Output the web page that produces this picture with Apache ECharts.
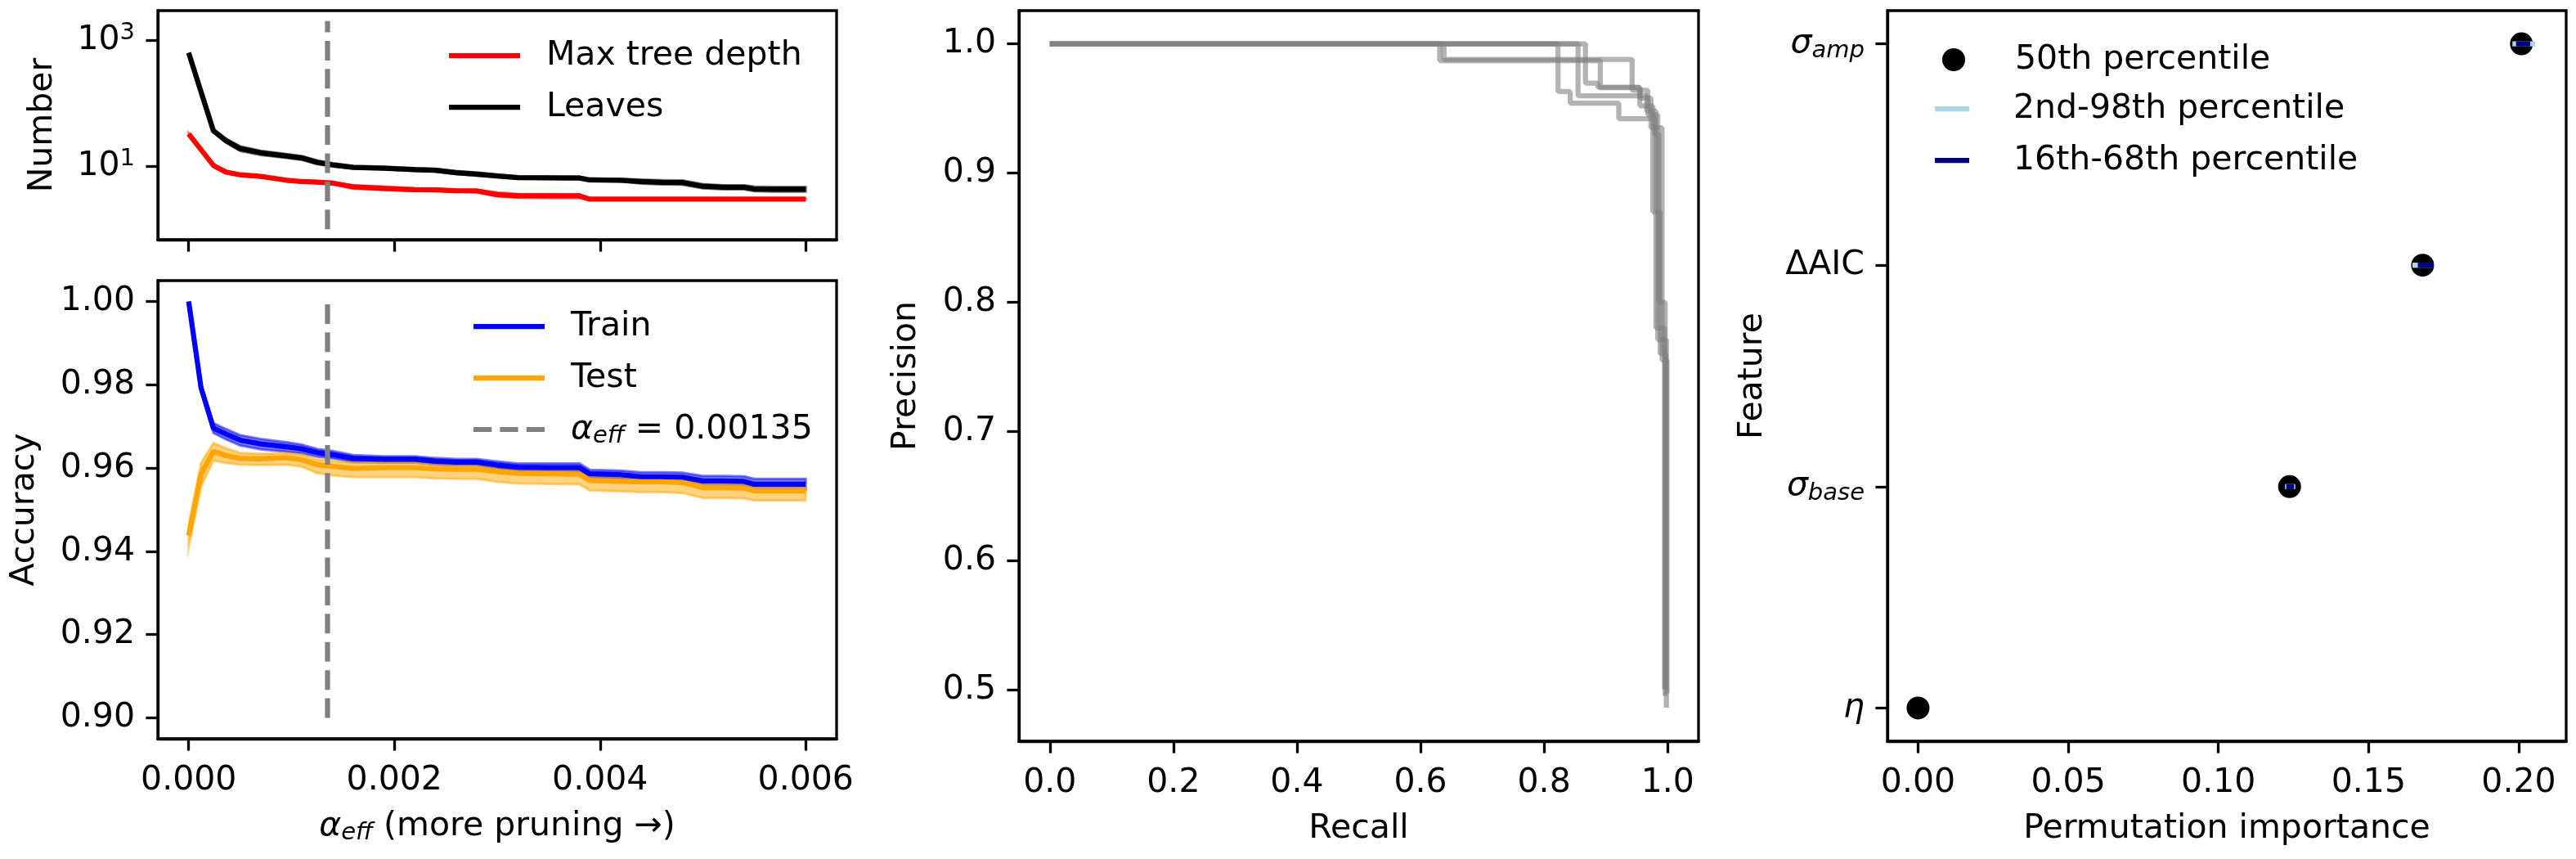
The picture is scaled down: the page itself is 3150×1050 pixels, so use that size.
<!DOCTYPE html>
<html>
<head>
<meta charset="utf-8">
<script src="https://cdn.jsdelivr.net/npm/echarts@6/dist/echarts.min.js"></script>
<style>
  html, body { margin: 0; padding: 0; background: #fff; }
  #main { width: 3150px; height: 1050px; }
</style>
</head>
<body>
<div id="main"></div>
<script>
// ---- pruning path (left panels) ----
var alphaX = [0, 0.00012, 0.00024, 0.00036, 0.0005, 0.0007, 0.00095, 0.0011, 0.00125, 0.0014, 0.0016, 0.0019, 0.0022, 0.0024, 0.0026, 0.0028, 0.0030, 0.0032, 0.0035, 0.0038, 0.0039, 0.0042, 0.0044, 0.0046, 0.0048, 0.0050, 0.0052, 0.0054, 0.0055, 0.0057, 0.0060];

var leaves   = [627, 151, 36.5, 25.5, 19, 16.3, 14.5, 13.5, 11.5, 10.5, 9.6, 9.3, 8.8, 8.6, 7.9, 7.5, 7.0, 6.6, 6.55, 6.5, 6.05, 6.0, 5.7, 5.55, 5.5, 4.8, 4.65, 4.65, 4.35, 4.3, 4.3];
var leavesHi = [627, 155, 38.5, 27.5, 20.8, 17.6, 15.6, 14.5, 12.4, 11.2, 10.1, 9.8, 9.3, 9.1, 8.4, 8.0, 7.4, 6.9, 6.85, 6.8, 6.35, 6.3, 6.15, 6.0, 5.95, 5.2, 5.0, 5.0, 4.75, 4.7, 4.7];
var leavesLo = [627, 147, 34.8, 23.8, 17.4, 15.0, 13.5, 12.6, 10.7, 9.9, 9.2, 8.9, 8.4, 8.2, 7.5, 7.1, 6.7, 6.35, 6.3, 6.25, 5.8, 5.75, 5.3, 5.15, 5.1, 4.45, 4.3, 4.3, 4.0, 3.95, 3.95];

var depth   = [32.4, 18.3, 10.3, 8.1, 7.3, 6.9, 6.0, 5.7, 5.6, 5.4, 4.7, 4.45, 4.25, 4.2, 4.1, 4.05, 3.55, 3.4, 3.38, 3.38, 3.0, 3.0, 3.0, 3.0, 3.0, 3.0, 3.0, 3.0, 3.0, 3.0, 3.0];
var depthHi = [33.5, 19, 10.8, 8.5, 7.6, 7.1, 6.25, 5.95, 5.8, 5.6, 5.0, 4.75, 4.45, 4.35, 4.25, 4.2, 3.85, 3.65, 3.62, 3.6, 3.05, 3.02, 3.02, 3.02, 3.02, 3.02, 3.02, 3.02, 3.02, 3.02, 3.02];
var depthLo = [31.0, 17.6, 9.8, 7.7, 7.0, 6.6, 5.8, 5.5, 5.4, 5.2, 4.4, 4.2, 4.05, 4.05, 3.95, 3.9, 3.3, 3.15, 3.12, 3.12, 2.95, 2.98, 2.98, 2.98, 2.98, 2.98, 2.98, 2.98, 2.98, 2.98, 2.98];

var train   = [1.000, 0.9793, 0.9696, 0.9682, 0.9667, 0.9658, 0.9651, 0.9646, 0.9637, 0.9632, 0.9623, 0.9621, 0.9621, 0.9616, 0.9614, 0.9614, 0.9607, 0.9602, 0.9601, 0.9601, 0.9586, 0.9584, 0.9579, 0.9579, 0.9578, 0.9569, 0.9569, 0.9568, 0.9561, 0.9561, 0.9561];
var trainHi = [1.0000, 0.9801, 0.9708, 0.9694, 0.9679, 0.9670, 0.9662, 0.9656, 0.9646, 0.9641, 0.9631, 0.9628, 0.9628, 0.9624, 0.9622, 0.9622, 0.9616, 0.9611, 0.9611, 0.9611, 0.9596, 0.9594, 0.9590, 0.9590, 0.9589, 0.9581, 0.9581, 0.9580, 0.9574, 0.9574, 0.9574];
var trainLo = [1.0000, 0.9785, 0.9684, 0.9669, 0.9654, 0.9645, 0.9639, 0.9635, 0.9627, 0.9623, 0.9614, 0.9613, 0.9613, 0.9608, 0.9606, 0.9606, 0.9598, 0.9593, 0.9591, 0.9591, 0.9576, 0.9574, 0.9568, 0.9568, 0.9567, 0.9557, 0.9557, 0.9556, 0.9548, 0.9548, 0.9548];

var test   = [0.9438, 0.9585, 0.9640, 0.9630, 0.9623, 0.9622, 0.9625, 0.9620, 0.9608, 0.9604, 0.9599, 0.9601, 0.9601, 0.9598, 0.9597, 0.9597, 0.9591, 0.9587, 0.9586, 0.9585, 0.9570, 0.9568, 0.9567, 0.9567, 0.9565, 0.9553, 0.9553, 0.9552, 0.9545, 0.9545, 0.9545];
var testHi = [0.9462, 0.9612, 0.9660, 0.9648, 0.9636, 0.9634, 0.9636, 0.9632, 0.9621, 0.9617, 0.9613, 0.9615, 0.9615, 0.9612, 0.9611, 0.9611, 0.9605, 0.9601, 0.9600, 0.9599, 0.9585, 0.9583, 0.9582, 0.9582, 0.9580, 0.9568, 0.9568, 0.9567, 0.9560, 0.9560, 0.9560];
var testLo = [0.9410, 0.9555, 0.9618, 0.9612, 0.9608, 0.9607, 0.9608, 0.9603, 0.9588, 0.9582, 0.9578, 0.9578, 0.9578, 0.9575, 0.9574, 0.9574, 0.9567, 0.9563, 0.9562, 0.9561, 0.9546, 0.9544, 0.9542, 0.9542, 0.9540, 0.9528, 0.9528, 0.9527, 0.9522, 0.9522, 0.9522];

var alphaEff = 0.00135;
var alphaTicks = [0, 0.002, 0.004, 0.006];
var accTicks = [0.90, 0.92, 0.94, 0.96, 0.98, 1.00];
var numTicks = [10, 1000];

// ---- precision-recall curves (middle) ----
var pr1Recall = [0, 0.631, 0.631, 0.891, 0.891, 0.955, 0.955, 0.976, 0.976, 0.988, 0.988, 0.997, 0.997];
var pr1Prec   = [1, 1, 0.987, 0.987, 0.966, 0.966, 0.952, 0.952, 0.870, 0.870, 0.760, 0.760, 0.500];
var pr2Recall = [0, 0.638, 0.638, 0.9425, 0.9425, 0.968, 0.968, 0.984, 0.984, 0.998, 0.998];
var pr2Prec   = [1, 1, 0.988, 0.988, 0.964, 0.964, 0.945, 0.945, 0.771, 0.771, 0.486];
var pr3Recall = [0, 0.8226, 0.8226, 0.8424, 0.8424, 0.921, 0.921, 0.979, 0.979, 0.986, 0.986, 0.996, 0.996];
var pr3Prec   = [1, 1, 0.963, 0.963, 0.954, 0.954, 0.942, 0.942, 0.930, 0.930, 0.800, 0.800, 0.495];
var pr4Recall = [0, 0.855, 0.855, 0.966, 0.966, 0.981, 0.981, 0.995, 0.995];
var pr4Prec   = [1, 1, 0.9597, 0.9597, 0.948, 0.948, 0.780, 0.780, 0.500];
var pr5Recall = [0, 0.867, 0.867, 0.887, 0.887, 0.955, 0.955, 0.973, 0.973, 0.991, 0.991, 0.999, 0.999];
var pr5Prec   = [1, 1, 0.9695, 0.9695, 0.9664, 0.9664, 0.958, 0.958, 0.935, 0.935, 0.755, 0.755, 0.497];
var recallTicks = [0, 0.2, 0.4, 0.6, 0.8, 1.0];
var precTicks = [0.5, 0.6, 0.7, 0.8, 0.9, 1.0];

// ---- permutation importance (right) ----
var featureLabels = ['{it|η}', '{it|σ}{sub|base}', 'ΔAIC', '{it|σ}{sub|amp}'];
var featurePos = [0, 1, 2, 3];
var impMedian = [0, 0.1237, 0.1680, 0.2009];
var p2Lo  = [0, 0.1222, 0.1646, 0.1979];
var p2Hi  = [0, 0.1256, 0.1719, 0.2055];
var p16Lo = [0, 0.1226, 0.1664, 0.1991];
var p16Hi = [0, 0.1252, 0.1717, 0.2038];
var impTicks = [0, 0.05, 0.10, 0.15, 0.20];

var FONT = 'DejaVu Sans';
var FS = 41;
var LW = 6.25;
var rich = {
  it:  { fontFamily: FONT, fontStyle: 'italic', fontSize: FS, lineHeight: 46, color: '#000' },
  sub: { fontFamily: FONT, fontStyle: 'italic', fontSize: 29, verticalAlign: 'bottom', color: '#000' },
  sup: { fontFamily: FONT, fontSize: 29, verticalAlign: 'top', color: '#000' }
};

function pairs(xs, ys) {
  return xs.map(function (x, i) { return [x, ys[i]]; });
}

function axisBase(gridIndex, type, min, max, ticks, fmt, showLabels) {
  return {
    gridIndex: gridIndex, type: type, min: min, max: max,
    axisLine: { show: true, onZero: false, lineStyle: { color: '#000', width: 3.3 } },
    axisTick: { show: true, length: 14.6, customValues: ticks, lineStyle: { color: '#000', width: 3.3 } },
    axisLabel: {
      show: showLabels, customValues: ticks, formatter: fmt,
      fontFamily: FONT, fontSize: FS, color: '#000', margin: 28, lineHeight: 46, rich: rich
    },
    splitLine: { show: false },
    nameTextStyle: { fontFamily: FONT, fontSize: FS, color: '#000', lineHeight: 46, rich: rich }
  };
}

function band(xi, yi, xs, lo, hi, fill) {
  return {
    type: 'custom', xAxisIndex: xi, yAxisIndex: yi, silent: true,
    data: [[xs[0], hi[0]]],
    renderItem: function (params, api) {
      var pts = [];
      for (var i = 0; i < xs.length; i++) pts.push(api.coord([xs[i], hi[i]]));
      for (var j = xs.length - 1; j >= 0; j--) pts.push(api.coord([xs[j], lo[j]]));
      return { type: 'polygon', shape: { points: pts }, style: { fill: fill, stroke: fill, lineWidth: 3 } };
    }
  };
}

function line(name, xi, yi, data, color, extra) {
  var s = {
    name: name, type: 'line', xAxisIndex: xi, yAxisIndex: yi, data: data,
    symbol: 'none', silent: true,
    itemStyle: { color: color },
    lineStyle: { color: color, width: LW }
  };
  if (extra) for (var k in extra) s.lineStyle[k] = extra[k];
  return s;
}

function errbar(name, lo, hi, color) {
  return {
    name: name, type: 'custom', xAxisIndex: 3, yAxisIndex: 3, silent: true, z: 5,
    itemStyle: { color: color },
    encode: { x: [0, 1], y: 2 },
    data: featurePos.map(function (p, i) { return [lo[i], hi[i], p]; }),
    renderItem: function (params, api) {
      var a = api.coord([api.value(0), api.value(2)]);
      var b = api.coord([api.value(1), api.value(2)]);
      return { type: 'line', shape: { x1: a[0], y1: a[1], x2: b[0], y2: b[1] },
               style: { stroke: color, lineWidth: LW, lineCap: 'butt' } };
    }
  };
}

function legendBox(left, top, width, height, items, textPad) {
  return {
    left: left, top: top, orient: 'vertical', itemGap: 17, padding: 0,
    itemWidth: width, itemHeight: height, selectedMode: false,
    itemStyle: { borderWidth: 0, opacity: 1 },
    textStyle: { fontFamily: FONT, fontSize: FS, color: '#000', lineHeight: 46, padding: [0, 0, 0, textPad], rich: rich },
    formatter: function (n) { return n === 'alphaLine' ? '{it|α}{sub|eff} = 0.00135' : n; },
    data: items
  };
}

var gridBox = { show: true, borderColor: '#000', borderWidth: 3.3, outerBoundsMode: 'none', containLabel: false };
function g(left, top, width, height) {
  var o = { left: left, top: top, width: width, height: height };
  for (var k in gridBox) o[k] = gridBox[k];
  return o;
}

var fmt3 = function (v) { return v.toFixed(3); };
var fmt2 = function (v) { return v.toFixed(2); };
var fmt1 = function (v) { return v.toFixed(1); };

var x0 = axisBase(0, 'value', -0.0003, 0.0063, alphaTicks, fmt3, false);
var y0 = axisBase(0, 'log', 0.684, 2924, numTicks, function (v) { return '10{sup|' + Math.round(Math.log10(v)) + '}'; }, true);
y0.logBase = 10; y0.name = 'Number'; y0.nameLocation = 'middle'; y0.nameRotate = 90; y0.nameGap = 118;

var x1 = axisBase(1, 'value', -0.0003, 0.0063, alphaTicks, fmt3, true);
x1.name = '{it|α}{sub|eff} (more pruning →)'; x1.nameLocation = 'middle'; x1.nameGap = 84;
var y1 = axisBase(1, 'value', 0.895, 1.005, accTicks, fmt2, true);
y1.name = 'Accuracy'; y1.nameLocation = 'middle'; y1.nameRotate = 90; y1.nameGap = 140;

var x2 = axisBase(2, 'value', -0.05, 1.05, recallTicks, fmt1, true);
x2.name = 'Recall'; x2.nameLocation = 'middle'; x2.nameGap = 84;
var y2 = axisBase(2, 'value', 0.46, 1.0257, precTicks, fmt1, true);
y2.name = 'Precision'; y2.nameLocation = 'middle'; y2.nameRotate = 90; y2.nameGap = 115;

var x3 = axisBase(3, 'value', -0.0102, 0.2158, impTicks, fmt2, true);
x3.name = 'Permutation importance'; x3.nameLocation = 'middle'; x3.nameGap = 84;
var y3 = axisBase(3, 'value', -0.15, 3.15, featurePos, function (v) { return featureLabels[Math.round(v)]; }, true);
y3.name = 'Feature'; y3.nameLocation = 'middle'; y3.nameRotate = 90; y3.nameGap = 142;

var prColor = 'rgba(128,128,128,0.6)';

var option = {
  animation: false,
  backgroundColor: '#fff',
  textStyle: { fontFamily: FONT, fontSize: FS, color: '#000' },
  grid: [g(193, 13, 830, 280), g(193, 343, 830, 560), g(1246, 13, 831, 893), g(2308, 13, 830, 893)],
  xAxis: [x0, x1, x2, x3],
  yAxis: [y0, y1, y2, y3],
  legend: [
    legendBox(549, 45, 87, LW, [{ name: 'Max tree depth', icon: 'rect' }, { name: 'Leaves', icon: 'rect' }], 27),
    legendBox(579, 376, 87, LW, [{ name: 'Train', icon: 'rect' }, { name: 'Test', icon: 'rect' },
      { name: 'alphaLine', icon: 'path://M0,0h22v6h-22zM32,0h22v6h-22zM64,0h22v6h-22z' }], 27),
    legendBox(2375, 50, 42, 28, [{ name: '50th percentile', icon: 'circle' }], 49),
    legendBox(2366, 110, 42, LW, [{ name: '2nd-98th percentile', icon: 'rect' }], 49),
    legendBox(2366, 173, 42, LW, [{ name: '16th-68th percentile', icon: 'rect' }], 49)
  ],
  series: [
    line('Max tree depth', 0, 0, pairs(alphaX, depth), '#ff0000'),
    band(0, 0, alphaX, depthLo, depthHi, 'rgba(255,0,0,0.5)'),
    line('Leaves', 0, 0, pairs(alphaX, leaves), '#000000'),
    band(0, 0, alphaX, leavesLo, leavesHi, 'rgba(0,0,0,0.5)'),
    line('cutTop', 0, 0, [[alphaEff, 1], [alphaEff, 2000]], '#808080', { type: [24, 10.4] }),

    line('Train', 1, 1, pairs(alphaX, train), '#0000ff'),
    band(1, 1, alphaX, trainLo, trainHi, 'rgba(0,0,255,0.5)'),
    line('Test', 1, 1, pairs(alphaX, test), '#ffa500'),
    band(1, 1, alphaX, testLo, testHi, 'rgba(255,165,0,0.5)'),
    line('alphaLine', 1, 1, [[alphaEff, 0.90], [alphaEff, 1.00]], '#808080', { type: [24, 10.4] }),

    line('pr1', 2, 2, pairs(pr1Recall, pr1Prec), prColor),
    line('pr2', 2, 2, pairs(pr2Recall, pr2Prec), prColor),
    line('pr3', 2, 2, pairs(pr3Recall, pr3Prec), prColor),
    line('pr4', 2, 2, pairs(pr4Recall, pr4Prec), prColor),
    line('pr5', 2, 2, pairs(pr5Recall, pr5Prec), prColor),

    {
      name: '50th percentile', type: 'scatter', xAxisIndex: 3, yAxisIndex: 3, silent: true,
      symbol: 'circle', symbolSize: 28, itemStyle: { color: '#000', opacity: 1 },
      data: pairs(impMedian, featurePos)
    },
    errbar('2nd-98th percentile', p2Lo, p2Hi, '#add8e6'),
    errbar('16th-68th percentile', p16Lo, p16Hi, '#000080')
  ]
};

var chart = echarts.init(document.getElementById('main'), null, { renderer: 'canvas' });
chart.setOption(option);
</script>
</body>
</html>
